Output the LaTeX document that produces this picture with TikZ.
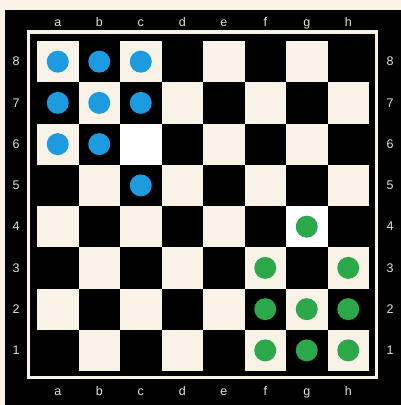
\documentclass[tikz,border=0pt]{standalone}
\usepackage{fontspec}
\setmainfont{Liberation Sans}
\definecolor{boardcream}{RGB}{248,243,230}
\definecolor{pieceblue}{RGB}{28,155,225}
\definecolor{piecegreen}{RGB}{43,168,74}
\definecolor{labelgray}{RGB}{225,225,225}
\usepackage{tikz}
\usetikzlibrary{positioning,calc}

\begin{document}
\begin{tikzpicture}[x=1pt,y=1pt,
    square/.style={minimum width=41.5pt, minimum height=41.25pt, inner sep=0pt, draw=none},
    piece/.style={circle, minimum size=22pt, inner sep=0pt},
    bluepiece/.style={piece, fill=pieceblue},
    greenpiece/.style={piece, fill=piecegreen},
    coordlabel/.style={text=labelgray, inner sep=0pt, font=\fontsize{12.5}{12.5}\selectfont}]
    % frame
    \fill[boardcream] (0,0) rectangle (401,405);
    \fill[black] (5,0) rectangle (401,395);
    \draw[boardcream, line width=3.5pt] (28.7,27.5) rectangle (376.5,373);
    % squares a1..h8
    \foreach \f [count=\i from 0] in {a,b,c,d,e,f,g,h}
        \foreach \r in {1,...,8} {
            \pgfmathtruncatemacro\shade{mod(\i+\r,2)}
            \ifnum\shade=0 \def\sqcol{boardcream}\else\def\sqcol{black}\fi
            \node[square, fill=\sqcol] (\f\r) at ({57.75+41.5*\i},{54.6+41.25*(\r-1)}) {};
        }
    % highlighted squares
    \node[square, fill=white] (hl-c6) at (c6) {};
    \node[square, fill=white] (hl-g4) at (g4) {};
    % pieces
    \foreach \sq in {a8,b8,c8,a7,b7,c7,a6,b6,c5}
        \node[bluepiece] (blue-\sq) at (\sq) {};
    \foreach \sq in {g4,f3,h3,f2,g2,h2,f1,g1,h1}
        \node[greenpiece] (green-\sq) at (\sq) {};
    % coordinates round the board
    \foreach \f [count=\i from 0] in {a,b,c,d,e,f,g,h} {
        \node[coordlabel, anchor=base] (top-\f) at ({57.75+41.5*\i},378.5) {\f};
        \node[coordlabel, anchor=base] (bot-\f) at ({57.75+41.5*\i},9.5) {\f};
    }
    \foreach \r in {1,...,8} {
        \node[coordlabel] (left-\r) at (16,{54.6+41.25*(\r-1)}) {\r};
        \node[coordlabel] (right-\r) at (390,{54.6+41.25*(\r-1)}) {\r};
    }
\end{tikzpicture}
\end{document}
